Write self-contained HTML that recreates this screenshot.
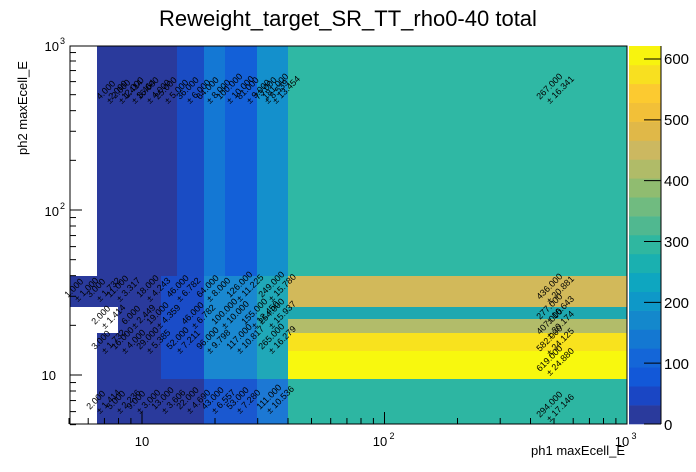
<!DOCTYPE html>
<html><head><meta charset="utf-8"><style>
html,body{margin:0;padding:0;background:#fff;}
svg{display:block;font-family:"Liberation Sans",sans-serif;}
</style></head><body>
<svg id="s" width="696" height="472" xmlns="http://www.w3.org/2000/svg">
<rect width="696" height="472" fill="#fff"/>
<g id="cells"></g>
<g id="txt" font-size="9" fill="#000"></g>
<g id="pal"></g>
<g id="ax" stroke="#000" stroke-width="1" fill="none"></g>
<text x="348" y="26" font-size="22" text-anchor="middle">Reweight_target_SR_TT_rho0-40 total</text>
<text x="625" y="455" font-size="13" text-anchor="end">ph1 maxEcell_E</text>
<text transform="translate(27,155) rotate(-90)" font-size="13">ph2 maxEcell_E</text>
<g font-size="13" text-anchor="middle">
<text x="142" y="446">10</text>
<text x="380" y="446">10</text><text x="392" y="439" font-size="9">2</text>
<text x="622" y="446">10</text><text x="634" y="439" font-size="9">3</text>
</g>
<g font-size="13" text-anchor="end">
<text x="56" y="380">10</text>
<text x="59" y="216">10</text><text x="65" y="209" font-size="9">2</text>
<text x="59" y="51">10</text><text x="65" y="44" font-size="9">3</text>
</g>
<g font-size="15">
<text x="664" y="430">0</text>
<text x="664" y="369">100</text>
<text x="664" y="308">200</text>
<text x="664" y="247">300</text>
<text x="664" y="186">400</text>
<text x="664" y="125">500</text>
<text x="664" y="64">600</text>
</g>
</svg>
<script>
const NS="http://www.w3.org/2000/svg";
function el(p,t,a){const e=document.createElementNS(NS,t);for(const k in a)e.setAttribute(k,a[k]);p.appendChild(e);return e;}
const PC=["#2a3a9c","#1a46c4","#1258d8","#1466d8","#1478d2","#1488cc","#0e98c8","#0ea6c0","#1ab0b0","#2fb7a0","#50b890","#70bb80","#90bc70","#b0bb68","#ccb860","#e0b848","#f2c038","#fcca30","#f8e020","#f8f40e"];
const TOP=46,BOT=424,BH=(BOT-TOP)/20;
const pal=document.getElementById("pal");
for(let i=0;i<20;i++){el(pal,"rect",{x:629,y:BOT-(i+1)*BH,width:32,height:BH+0.3,fill:PC[i]});}
const C=document.getElementById("cells");
function R(x0,x1,y0,y1,c){el(C,"rect",{x:x0,y:y0,width:x1-x0,height:y1-y0,fill:c});}
// top band
R(97,177,TOP,276,"#2a3a9c");R(177,204,TOP,276,"#1a4cc4");R(204,225,TOP,276,"#1478d4");R(225,257,TOP,276,"#1360d8");R(257,288,TOP,276,"#1490cc");R(288,627,TOP,276,"#2fb8a4");
// right column
R(288,627,276,307,"#d2b95a");R(288,627,307,319,"#1ea8b0");R(288,627,319,333,"#b2bc6a");R(288,627,333,351,"#f8e21e");R(288,627,351,379,"#f8f80e");R(288,627,379,BOT,"#2db6a2");
// lower-left
R(70,161,276,307,"#2a3a9c");R(118,161,307,333,"#2a3a9c");R(97,161,333,379,"#2a3a9c");
R(161,204,276,379,"#1a4cc8");R(204,257,276,379,"#1a88d0");R(257,288,276,379,"#20a8b8");
R(97,204,379,BOT,"#2a3a9c");R(204,257,379,BOT,"#1a58d0");R(257,288,379,BOT,"#1c78d4");
// texts
const T=document.getElementById("txt");
function lab(x,y,a,b){const g=el(T,"g",{transform:`translate(${x},${y}) rotate(-45)`});const t1=el(g,"text",{x:0,y:0});t1.textContent=a;const t2=el(g,"text",{x:4,y:10});t2.textContent="± "+b;}
[[100,100,"4.000","2.000"],[112,100,"2.000","1.414"],[125,100,"12.000","3.464"],[140,100,"16.000","4.000"],[158,100,"25.000","5.000"],[180,100,"36.000","6.000"],[200,100,"64.000","8.000"],[220,100,"100.000","10.000"],[240,100,"81.000","9.000"],[258,100,"73.000","8.539"],[266,100,"181.000","13.454"],
[540,100,"267.000","16.341"],[540,300,"436.000","20.881"],[540,320,"277.000","16.643"],[540,335,"407.000","20.174"],[540,352,"582.000","24.125"],[540,372,"619.000","24.880"],[540,418,"294.000","17.146"],
[90,410,"2.000","1.414"],[110,410,"5.000","2.236"],[130,410,"9.000","3.000"],[155,410,"13.000","3.606"],[180,410,"22.000","4.690"],[205,410,"43.000","6.557"],[230,410,"53.000","7.280"],[260,410,"111.000","10.536"],
[68,298,"1.000","1.000"],[90,298,"3.000","1.732"],[110,298,"11.000","3.317"],[140,298,"18.000","4.243"],[170,298,"46.000","6.782"],[200,298,"64.000","8.000"],[230,298,"126.000","11.225"],[262,298,"249.000","15.780"],
[95,350,"3.000","1.732"],[115,350,"16.000","4.000"],[140,350,"29.000","5.385"],[170,350,"52.000","7.211"],[200,350,"96.000","9.798"],[230,350,"117.000","10.817"],[262,350,"265.000","16.279"],
[95,325,"2.000","1.414"],[125,325,"6.000","2.449"],[150,325,"19.000","4.359"],[185,325,"46.000","6.782"],[215,325,"100.000","10.000"],[245,325,"155.000","12.450"],[262,325,"254.000","15.937"]
].forEach(a=>lab(...a));
// axes
const A=document.getElementById("ax");
el(A,"rect",{x:70,y:TOP,width:557,height:BOT-TOP});
el(A,"line",{x1:661,y1:TOP,x2:661,y2:BOT});
const lx=v=>142+(Math.log10(v)-1)*242.5, ly=v=>375-(Math.log10(v)-1)*165;
for(let d of [1,10,100]){for(let m=1;m<10;m++){const val=d*m;if(val<5)continue;const x=lx(val);if(x>627.5)continue;const L=(m==1)?12:6;el(A,"line",{x1:x,y1:BOT,x2:x,y2:BOT-L});const y=ly(val);if(y>=TOP)el(A,"line",{x1:70,y1:y,x2:70+L,y2:y});}}
el(A,"line",{x1:627,y1:BOT,x2:627,y2:BOT-12});el(A,"line",{x1:70,y1:TOP,x2:82,y2:TOP});
for(let v=0;v<=600;v+=100){const y=BOT-v*(BOT-59)/600;el(A,"line",{x1:661,y1:y,x2:644,y2:y});}
</script>
</body></html>
